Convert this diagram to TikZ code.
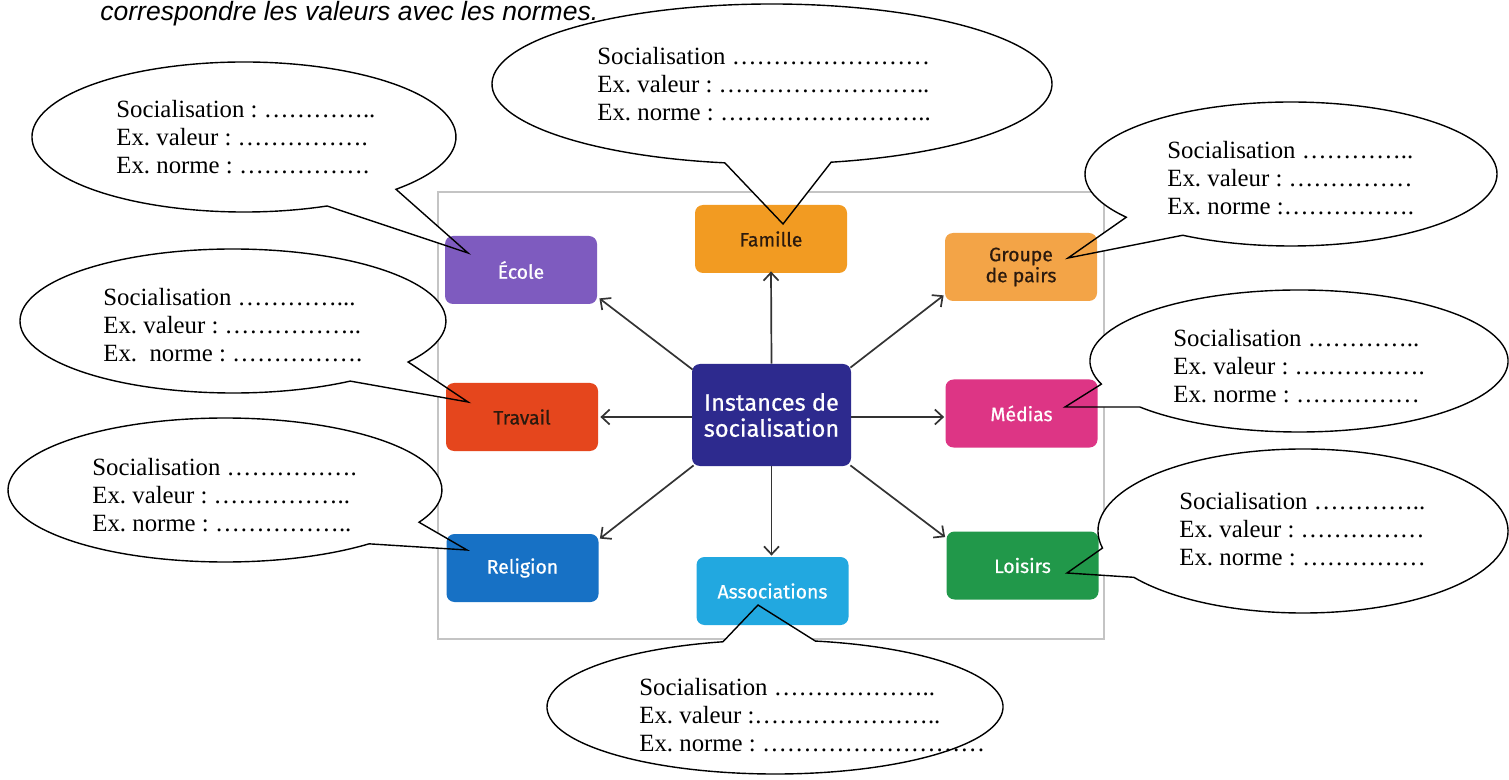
\documentclass[tikz,border=0pt]{standalone}
\usepackage{fontspec}
\setmainfont{Liberation Serif}
\newfontfamily\boxfont[FakeBold=0.6]{Fira Sans}
\newfontfamily\headfont{Liberation Sans}
\usetikzlibrary{arrows.meta,calc}
\frenchspacing
\definecolor{cFam}{HTML}{F29B22}
\definecolor{cEco}{HTML}{7E5BBF}
\definecolor{cGrp}{HTML}{F3A447}
\definecolor{cCen}{HTML}{2D2A8E}
\definecolor{cTrav}{HTML}{E5461D}
\definecolor{cMed}{HTML}{DD3585}
\definecolor{cRel}{HTML}{1771C5}
\definecolor{cAss}{HTML}{22A8E0}
\definecolor{cLoi}{HTML}{21984A}
\definecolor{txtdark}{HTML}{2B1A0E}
\definecolor{arrowgray}{HTML}{333333}
\definecolor{framegray}{HTML}{C4C4C4}
\newcommand\bubble[9]{\path[#1] (#8,#9) -- ([shift={(#6:#4 and #5)}]#2,#3) arc[start angle=#6,end angle=#7,x radius=#4,y radius=#5] -- cycle;}
\begin{document}
\begin{tikzpicture}[x=0.5pt,y=-0.5pt,
  inst/.style={rounded corners=4pt, minimum width=76pt, minimum height=34pt, inner sep=0pt,
    font=\boxfont\fontsize{9.7}{10.5}\selectfont, align=center, text=white},
  arr/.style={-{Straight Barb[length=4pt,width=7.5pt]}, line width=0.85pt, draw=arrowgray},
  bfill/.style={fill=white},
  bline/.style={draw=black, line width=0.7pt},
  btext/.style={anchor=west, inner sep=0pt, align=left, font=\fontsize{12.4}{14.2}\selectfont}]
\useasboundingbox (0,0) rectangle (1509,780);
\fill[white] (0,0) rectangle (1509,780);

\node[anchor=base west, inner sep=0pt, font=\headfont\itshape\fontsize{13.25}{15}\selectfont] (head) at (100,20.5) {correspondre les valeurs avec les normes.};

\draw[framegray, line width=0.7pt] (438,192) rectangle (1104,639);

% bubble fills
\bubble{bfill}{772}{84}{280}{80}{99.7}{437.8}{783}{224}
\bubble{bfill}{244}{137}{212}{75}{66.9}{404.2}{468}{253}
\bubble{bfill}{233}{321}{213}{72}{56.6}{394.7}{468}{402}
\bubble{bfill}{225}{490}{217}{72}{48.4}{386.6}{467}{550}
\bubble{bfill}{1291}{174}{206}{72}{143.1}{481.7}{1068}{258}
\bubble{bfill}{1299}{361}{209}{71}{161}{499.6}{1065}{407}
\bubble{bfill}{1303}{531}{205}{82}{168}{505.6}{1067}{573}
\bubble{bfill}{775}{707}{228}{67}{280.2}{616.8}{758}{605}

% boxes
\node[inst, fill=cFam, text=txtdark] (F) at (771,239) {Famille};
\node[inst, fill=cEco] (E) at (521,270) {École};
\node[inst, fill=cGrp, text=txtdark] (G) at (1021,267) {Groupe\\de pairs};
\node[inst, fill=cCen, minimum width=79.5pt, minimum height=51pt,
  font=\boxfont\fontsize{11.8}{13}\selectfont] (C) at (771.5,415) {Instances de\\socialisation};
\node[inst, fill=cTrav, text=txtdark] (T) at (522,417) {Travail};
\node[inst, fill=cMed] (M) at (1021.5,413.5) {Médias};
\node[inst, fill=cRel] (R) at (522.5,568) {Religion};
\node[inst, fill=cAss] (A) at (772.5,591) {Associations};
\node[inst, fill=cLoi] (L) at (1022.5,565.5) {Loisirs};

% arrows
\draw[arr] (C.north) -- ([shift={(0,-2)}]F.south);
\draw[arr] ([shift={(1,6)}]C.north west) -- ([shift={(2,-6)}]E.south east);
\draw[arr] ([shift={(-1,4)}]C.north east) -- ([shift={(-1,-6)}]G.south west);
\draw[arr] (C.west |- T.east) -- ([shift={(2,0)}]T.east);
\draw[arr] (C.east |- 0,417) -- ([shift={(-1,0)}]M.west |- 0,417);
\draw[arr] ([shift={(2,-1)}]C.south west) -- ([shift={(1,5)}]R.north east);
\draw[arr] (C.south) -- ([shift={(0,-1)}]C.south |- A.north);
\draw[arr] ([shift={(-1,-1)}]C.south east) -- ([shift={(-1,6)}]L.north west);

% bubble outlines
\bubble{bline}{772}{84}{280}{80}{99.7}{437.8}{783}{224}
\bubble{bline}{244}{137}{212}{75}{66.9}{404.2}{468}{253}
\bubble{bline}{233}{321}{213}{72}{56.6}{394.7}{468}{402}
\bubble{bline}{225}{490}{217}{72}{48.4}{386.6}{467}{550}
\bubble{bline}{1291}{174}{206}{72}{143.1}{481.7}{1068}{258}
\bubble{bline}{1299}{361}{209}{71}{161}{499.6}{1065}{407}
\bubble{bline}{1303}{531}{205}{82}{168}{505.6}{1067}{573}
\bubble{bline}{775}{707}{228}{67}{280.2}{616.8}{758}{605}

% bubble texts
\node[btext] (bF) at (597,84) {Socialisation ……………………\\Ex. valeur : ……………………..\\Ex. norme : ……………………..};
\node[btext] (bE) at (116,137) {Socialisation : …………..\\Ex. valeur : …………….\\Ex. norme : …………….};
\node[btext] (bT) at (103,325) {Socialisation …………...\\Ex. valeur : ……………..\\Ex.\ \ norme : …………….};
\node[btext] (bR) at (92,495) {Socialisation …………….\\Ex. valeur : ……………..\\Ex. norme : ……………..};
\node[btext] (bG) at (1167,178) {Socialisation …………..\\Ex. valeur : ……………\\Ex. norme :…………….};
\node[btext] (bM) at (1173,366) {Socialisation …………..\\Ex. valeur : …………….\\Ex. norme : ……………};
\node[btext] (bL) at (1179,529) {Socialisation …………..\\Ex. valeur : ……………\\Ex. norme : ……………};
\node[btext] (bA) at (639,715) {Socialisation ………………..\\Ex. valeur :…………………..\\Ex. norme : ………………………};
\end{tikzpicture}
\end{document}
